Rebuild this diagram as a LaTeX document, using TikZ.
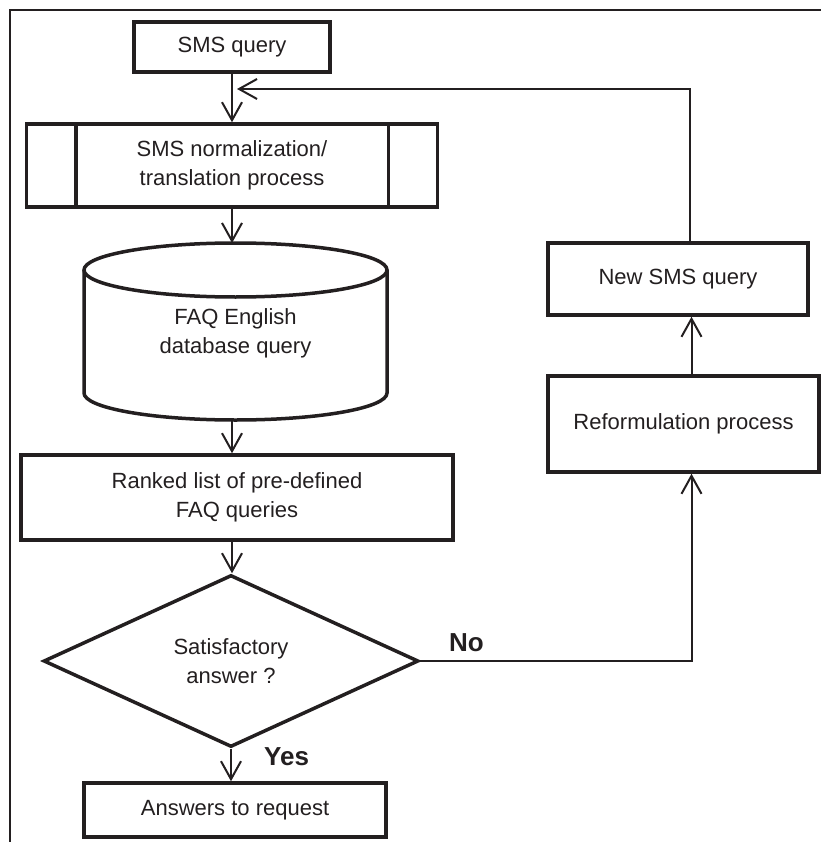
\documentclass[tikz,border=0pt]{standalone}
\usepackage{fontspec}
\setmainfont{Liberation Sans}
\usetikzlibrary{arrows.meta,shapes.geometric}
\definecolor{ink}{RGB}{35,31,32}
\begin{document}
\begin{tikzpicture}[x=1pt,y=-1pt, color=ink,
  txt/.style={align=center, text=ink, font=\fontsize{22}{29}\selectfont},
  box/.style={txt, draw=ink, line width=3.5pt, inner sep=0pt},
  thick3/.style={draw=ink, line width=3.5pt},
  conn/.style={draw=ink, line width=2pt},
  arr/.style={conn, -{Straight Barb[length=18pt,width=20pt,line width=2pt]}},
  lbl/.style={text=ink, font=\fontsize{26}{30}\selectfont\bfseries, inner sep=0pt}]
\useasboundingbox (0,0) rectangle (821,842);
\draw[conn] (10,842) -- (10,10) -- (821,10);

% nodes
\node[box, minimum width=196pt, minimum height=50pt] (sms) at (232,47) {SMS query};
\node[box, minimum width=411pt, minimum height=83pt] (norm) at (232,165.5) {SMS normalization/\\translation process};
\draw[thick3] ([xshift=51pt]norm.north west) -- ([xshift=51pt]norm.south west);
\draw[thick3] ([xshift=-51pt]norm.north east) -- ([xshift=-51pt]norm.south east);

% database cylinder
\draw[thick3] (84,270) -- (84,393)
  arc[start angle=180, end angle=0, x radius=151.5, y radius=27] -- (387,270);
\draw[thick3] (235.5,270) ellipse [x radius=151.5, y radius=27];
\node[txt] (db) at (235.5,333) {FAQ English\\database query};
\coordinate (dbtop) at (232,243);
\coordinate (dbbot) at (232,420);

\node[box, minimum width=432pt, minimum height=85pt] (rank) at (237,497.5) {Ranked list of pre-defined\\FAQ queries};
\node[txt, draw=ink, diamond, line width=3.5pt, minimum width=375pt, minimum height=172pt, inner sep=0pt] (dec) at (231,661) {Satisfactory\\answer ?};
\node[box, minimum width=302pt, minimum height=54pt] (ans) at (235,810) {Answers to request};

\node[box, minimum width=271pt, minimum height=96pt] (ref) at (683.5,424) {Reformulation process};
\node[box, minimum width=260pt, minimum height=72pt] (new) at (678,279) {New SMS query};

\node[lbl, anchor=base west] (no) at (449,651) {No};
\node[lbl, anchor=base west] (yes) at (264,765) {Yes};

% connectors
\draw[arr] (sms.south) -- (sms.south |- norm.north);
\draw[arr] (norm.south) -- (dbtop);
\draw[arr] (dbbot) -- (dbbot |- rank.north);
\draw[arr] (dbbot |- rank.south) -- (dbbot |- dec.north);
\draw[arr] (dec.south) -- (dec.south |- ans.north);
\draw[arr] (dec.east) -| ([xshift=8pt]ref.south);
\draw[arr] ([xshift=8pt]ref.north) -- ([xshift=8pt]ref.north |- new.south);
\coordinate (fbend) at (237,89);
\draw[arr] ([xshift=12pt]new.north) |- (fbend);
\end{tikzpicture}
\end{document}
